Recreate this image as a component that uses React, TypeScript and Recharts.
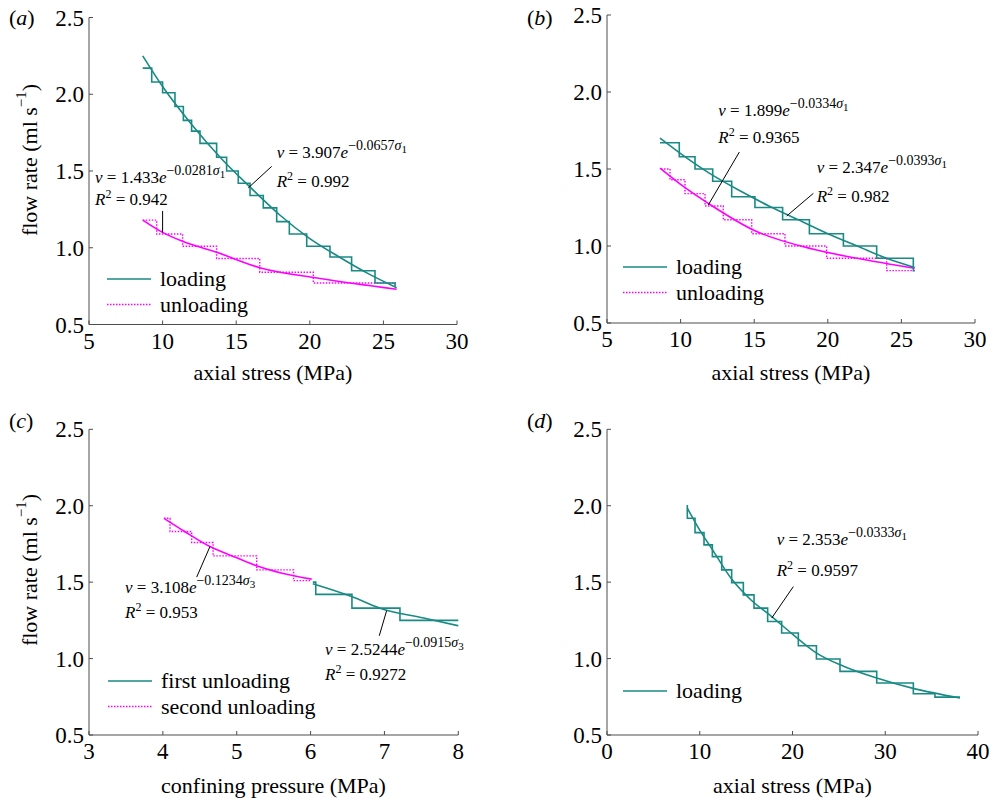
import React from "react";
import { LineChart, Line, XAxis, YAxis, ReferenceLine, Legend } from "recharts";

const FONT = '"Liberation Serif", "Times New Roman", serif';
const TEAL = "#1a8a84";
const MAGENTA = "#ff00ff";
const AXIS = "#4d4d4d";

const FLOW_TICKS = [0.5, 1.0, 1.5, 2.0, 2.5];
const STRESS_TICKS = [5, 10, 15, 20, 25, 30];
const PRESSURE_TICKS = [3, 4, 5, 6, 7, 8];
const STRESS_TICKS_D = [0, 10, 20, 30, 40];

// (a) loading / unloading, axial stress
const A_LOAD_X = [8.65, 9.26, 10.0, 10.84, 11.41, 11.97, 12.54, 13.67, 14.35, 15.14, 15.94, 16.84, 17.75, 18.61, 19.79, 21.37, 22.84, 24.43, 25.79];
const A_LOAD_Y = [2.17, 2.08, 2.01, 1.92, 1.83, 1.76, 1.68, 1.59, 1.5, 1.42, 1.34, 1.26, 1.17, 1.09, 1.01, 0.94, 0.85, 0.77, 0.75];
const A_UNLOAD_X = [8.65, 9.6, 11.36, 13.67, 16.6, 20.24, 25.8];
const A_UNLOAD_Y = [1.18, 1.09, 1.01, 0.93, 0.84, 0.77, 0.75];
const A_LOAD_FIT_X = [8.65, 10, 12, 14, 16, 18, 20, 22, 24, 25.9];
const A_LOAD_FIT_Y = [2.25, 2.05, 1.8, 1.58, 1.39, 1.21, 1.06, 0.94, 0.83, 0.74];
const A_UNLOAD_FIT_X = [8.65, 10, 11.4, 13.67, 16.6, 20.7, 25.9];
const A_UNLOAD_FIT_Y = [1.18, 1.1, 1.04, 0.97, 0.87, 0.8, 0.73];

// (b)
const B_LOAD_X = [8.6, 9.91, 10.98, 12.18, 13.47, 15.05, 16.93, 18.75, 21.06, 23.32, 25.81, 25.9];
const B_LOAD_Y = [1.67, 1.58, 1.5, 1.42, 1.32, 1.25, 1.17, 1.08, 1.0, 0.92, 0.84, 0.84];
const B_UNLOAD_X = [8.67, 9.28, 10.3, 11.66, 12.9, 14.83, 17.09, 19.92, 24.0, 25.9];
const B_UNLOAD_Y = [1.5, 1.43, 1.34, 1.26, 1.17, 1.08, 1.0, 0.92, 0.84, 0.84];
const B_LOAD_FIT_X = [8.6, 10, 12, 14, 16, 18, 20, 22, 24, 25.9];
const B_LOAD_FIT_Y = [1.7, 1.6, 1.47, 1.36, 1.26, 1.17, 1.08, 1.0, 0.92, 0.86];
const B_UNLOAD_FIT_X = [8.6, 10, 11.88, 14.94, 19.02, 22, 25.9];
const B_UNLOAD_FIT_Y = [1.505, 1.4, 1.277, 1.104, 0.979, 0.92, 0.855];

// (c) confining pressure
const C_FIRST_X = [6.03, 6.07, 6.56, 7.21, 8.01];
const C_FIRST_Y = [1.5, 1.42, 1.33, 1.25, 1.25];
const C_SECOND_X = [4.015, 4.097, 4.39, 4.68, 5.27, 5.77, 6.015];
const C_SECOND_Y = [1.918, 1.831, 1.759, 1.672, 1.58, 1.51, 1.51];
const C_FIRST_FIT_X = [6.03, 6.556, 6.94, 7.53, 8.01];
const C_FIRST_FIT_Y = [1.49, 1.406, 1.33, 1.265, 1.214];
const C_SECOND_FIT_X = [4.015, 4.3, 4.638, 5.0, 5.27, 5.6, 6.015];
const C_SECOND_FIT_Y = [1.918, 1.83, 1.733, 1.66, 1.607, 1.56, 1.52];

// (d)
const D_LOAD_X = [8.66, 8.66, 9.49, 10.46, 11.36, 12.37, 13.44, 14.7, 15.85, 17.32, 18.83, 20.63, 22.58, 25.12, 29.08, 33.03, 35.36, 38.06];
const D_LOAD_Y = [2.005, 1.918, 1.824, 1.744, 1.667, 1.58, 1.497, 1.417, 1.33, 1.243, 1.167, 1.084, 0.997, 0.916, 0.84, 0.77, 0.748, 0.748];
const D_FIT_X = [8.66, 10, 11.5, 13.44, 15.5, 17.76, 20, 22.6, 25.5, 29.08, 33, 38.06];
const D_FIT_Y = [1.984, 1.84, 1.7, 1.52, 1.385, 1.275, 1.16, 1.036, 0.95, 0.873, 0.805, 0.742];

const pts = (xs: number[], ys: number[]) => xs.map((x, i) => ({ x, y: ys[i] }));

type Series = { data: { x: number; y: number }[]; color: string; step?: boolean; dotted?: boolean };
type LegendItem = { label: string; color: string; dotted?: boolean };

function LegendBox({ items }: { items: LegendItem[] }) {
  return (
    <svg width={230} height={60} style={{ display: "block", fontFamily: FONT }}>
      {items.map((it, i) => (
        <g key={it.label}>
          <line x1={0} x2={44} y1={12 + i * 25.5} y2={12 + i * 25.5} stroke={it.color} strokeWidth={it.dotted ? 1.4 : 1.6} strokeDasharray={it.dotted ? "1.5 1.5" : undefined} />
          <text x={53} y={19 + i * 25.5} fontSize={22} fill="#000">
            {it.label}
          </text>
        </g>
      ))}
    </svg>
  );
}

function Eq({ x, y, c, k, s }: { x: number; y: number; c: string; k: string; s: string }) {
  return (
    <text x={x} y={y} fontSize={17} fill="#000" style={{ whiteSpace: "pre" }}>
      <tspan fontStyle="italic">v</tspan>
      <tspan>{` = ${c}`}</tspan>
      <tspan fontStyle="italic">e</tspan>
      <tspan dy={-8} fontSize={14}>{`\u2212${k}`}</tspan>
      <tspan fontStyle="italic" fontSize={14}>σ</tspan>
      <tspan dy={3} fontSize={11}>{s}</tspan>
    </text>
  );
}

function R2({ x, y, r }: { x: number; y: number; r: string }) {
  return (
    <text x={x} y={y} fontSize={17} fill="#000" style={{ whiteSpace: "pre" }}>
      <tspan fontStyle="italic">R</tspan>
      <tspan dy={-7} fontSize={12}>2</tspan>
      <tspan dy={7}>{` = ${r}`}</tspan>
    </text>
  );
}

function PanelTag({ x, y, t }: { x: number; y: number; t: string }) {
  return (
    <text x={x} y={y} fontSize={22} fill="#000">
      (<tspan fontStyle="italic">{t}</tspan>)
    </text>
  );
}

function FlowLabel({ x, y }: { x: number; y: number }) {
  return (
    <text transform={`translate(${x},${y}) rotate(-90)`} textAnchor="middle" fontSize={22} fill="#000" dominantBaseline="central">
      flow rate (ml s<tspan dy={-8} fontSize={15}>{"\u22121"}</tspan>
      <tspan dy={8}>)</tspan>
    </text>
  );
}

type PanelProps = {
  left: number;
  top: number;
  margin: { top: number; right: number; bottom: number; left: number };
  xDomain: [number, number];
  xTicks: number[];
  series: Series[];
  leaders: number[][];
  legend: LegendItem[];
  legendPos: { left: number; top: number };
  children?: React.ReactNode;
};

function Panel({ left, top, margin, xDomain, xTicks, series, leaders, legend, legendPos, children }: PanelProps) {
  return (
    <div style={{ position: "absolute", left, top }}>
      <LineChart width={497} height={400} margin={margin}>
        <XAxis
          type="number"
          dataKey="x"
          domain={xDomain}
          ticks={xTicks}
          interval={0}
          allowDataOverflow
          stroke={AXIS}
          tickSize={-4}
          tickMargin={12}
          height={30}
          tick={{ fill: "#000", fontSize: 23 }}
        />
        <YAxis
          type="number"
          dataKey="y"
          domain={[0.5, 2.5]}
          ticks={FLOW_TICKS}
          interval={0}
          allowDataOverflow
          stroke={AXIS}
          tickSize={-4}
          tickMargin={9}
          width={60}
          tick={{ fill: "#000", fontSize: 23 }}
          tickFormatter={(v: number) => v.toFixed(1)}
        />
        {series.map((s, i) => (
          <Line
            key={i}
            data={s.data}
            dataKey="y"
            type={s.step ? "stepAfter" : "monotone"}
            stroke={s.color}
            strokeWidth={s.dotted ? 1.4 : 1.6}
            strokeDasharray={s.dotted ? "1.5 1.5" : undefined}
            dot={false}
            activeDot={false}
            legendType="none"
            isAnimationActive={false}
          />
        ))}
        {leaders.map((l, i) => (
          <ReferenceLine
            key={"l" + i}
            segment={[
              { x: l[0], y: l[1] },
              { x: l[2], y: l[3] },
            ]}
            stroke="#000"
            strokeWidth={1}
            ifOverflow="visible"
          />
        ))}
        <Legend
          layout="vertical"
          align="center"
          verticalAlign="middle"
          wrapperStyle={{ left: legendPos.left, top: legendPos.top, width: "auto" }}
          content={() => <LegendBox items={legend} />}
        />
        {children}
      </LineChart>
    </div>
  );
}

export default function App() {
  const loadLegend = [
    { label: "loading", color: TEAL },
    { label: "unloading", color: MAGENTA, dotted: true },
  ];
  return (
    <div style={{ position: "absolute", left: 0, top: 0, width: 994, height: 799, background: "#fff", fontFamily: FONT, overflow: "hidden" }}>
      <Panel
        left={0}
        top={0}
        margin={{ top: 17.5, right: 40, bottom: 45.5, left: 29 }}
        xDomain={[5, 30]}
        xTicks={STRESS_TICKS}
        series={[
          { data: pts(A_UNLOAD_X, A_UNLOAD_Y), color: MAGENTA, step: true, dotted: true },
          { data: pts(A_LOAD_X, A_LOAD_Y), color: TEAL, step: true },
          { data: pts(A_UNLOAD_FIT_X, A_UNLOAD_FIT_Y), color: MAGENTA },
          { data: pts(A_LOAD_FIT_X, A_LOAD_FIT_Y), color: TEAL },
        ]}
        leaders={[
          [17.41, 1.53, 15.82, 1.39],
          [10.0, 1.24, 10.0, 1.1],
        ]}
        legend={loadLegend}
        legendPos={{ left: 106.5, top: 266.5 }}
      >
        <PanelTag x={9} y={25} t="a" />
        <FlowLabel x={29} y={160} />
        <text x={273} y={380} textAnchor="middle" fontSize={22} fill="#000">axial stress (MPa)</text>
        <Eq x={276.7} y={158} c="3.907" k="0.0657" s="1" />
        <R2 x={276.7} y={186.7} r="0.992" />
        <Eq x={95} y={183.3} c="1.433" k="0.0281" s="1" />
        <R2 x={95} y={205} r="0.942" />
      </Panel>

      <Panel
        left={497}
        top={0}
        margin={{ top: 15, right: 19, bottom: 47, left: 50 }}
        xDomain={[5, 30]}
        xTicks={STRESS_TICKS}
        series={[
          { data: pts(B_UNLOAD_X, B_UNLOAD_Y), color: MAGENTA, step: true, dotted: true },
          { data: pts(B_LOAD_X, B_LOAD_Y), color: TEAL, step: true },
          { data: pts(B_UNLOAD_FIT_X, B_UNLOAD_FIT_Y), color: MAGENTA },
          { data: pts(B_LOAD_FIT_X, B_LOAD_FIT_Y), color: TEAL },
        ]}
        leaders={[
          [13.99, 1.61, 11.88, 1.266],
          [19.02, 1.342, 17.21, 1.195],
        ]}
        legend={loadLegend}
        legendPos={{ left: 126.3, top: 255.3 }}
      >
        <PanelTag x={30} y={25} t="b" />
        <text x={294} y={380} textAnchor="middle" fontSize={22} fill="#000">axial stress (MPa)</text>
        <Eq x={221.3} y={116} c="1.899" k="0.0334" s="1" />
        <R2 x={221.3} y={143.3} r="0.9365" />
        <Eq x={319.7} y={173.3} c="2.347" k="0.0393" s="1" />
        <R2 x={319.7} y={201.7} r="0.982" />
      </Panel>

      <Panel
        left={0}
        top={400}
        margin={{ top: 29.3, right: 38.7, bottom: 35, left: 29 }}
        xDomain={[3, 8]}
        xTicks={PRESSURE_TICKS}
        series={[
          { data: pts(C_SECOND_X, C_SECOND_Y), color: MAGENTA, step: true, dotted: true },
          { data: pts(C_FIRST_X, C_FIRST_Y), color: TEAL, step: true },
          { data: pts(C_SECOND_FIT_X, C_SECOND_FIT_Y), color: MAGENTA },
          { data: pts(C_FIRST_FIT_X, C_FIRST_FIT_Y), color: TEAL },
        ]}
        leaders={[
          [4.458, 1.533, 4.638, 1.733],
          [6.93, 1.149, 7.03, 1.314],
        ]}
        legend={[
          { label: "first unloading", color: TEAL },
          { label: "second unloading", color: MAGENTA, dotted: true },
        ]}
        legendPos={{ left: 108, top: 268.7 }}
      >
        <PanelTag x={9} y={28} t="c" />
        <FlowLabel x={29} y={170} />
        <text x={273.5} y={393} textAnchor="middle" fontSize={22} fill="#000">confining pressure (MPa)</text>
        <Eq x={125} y={193.3} c="3.108" k="0.1234" s="3" />
        <R2 x={125} y={218.3} r="0.953" />
        <Eq x={325} y={255} c="2.5244" k="0.0915" s="3" />
        <R2 x={325} y={280} r="0.9272" />
      </Panel>

      <Panel
        left={497}
        top={400}
        margin={{ top: 29.3, right: 16, bottom: 35, left: 50 }}
        xDomain={[0, 40]}
        xTicks={STRESS_TICKS_D}
        series={[
          { data: pts(D_LOAD_X, D_LOAD_Y), color: TEAL, step: true },
          { data: pts(D_FIT_X, D_FIT_Y), color: TEAL },
        ]}
        leaders={[[20.09, 1.471, 17.76, 1.265]]}
        legend={[{ label: "loading", color: TEAL }]}
        legendPos={{ left: 126, top: 279 }}
      >
        <PanelTag x={30} y={28} t="d" />
        <text x={295.5} y={393} textAnchor="middle" fontSize={22} fill="#000">axial stress (MPa)</text>
        <Eq x={279.7} y={145} c="2.353" k="0.0333" s="1" />
        <R2 x={279.7} y={176} r="0.9597" />
      </Panel>
    </div>
  );
}
